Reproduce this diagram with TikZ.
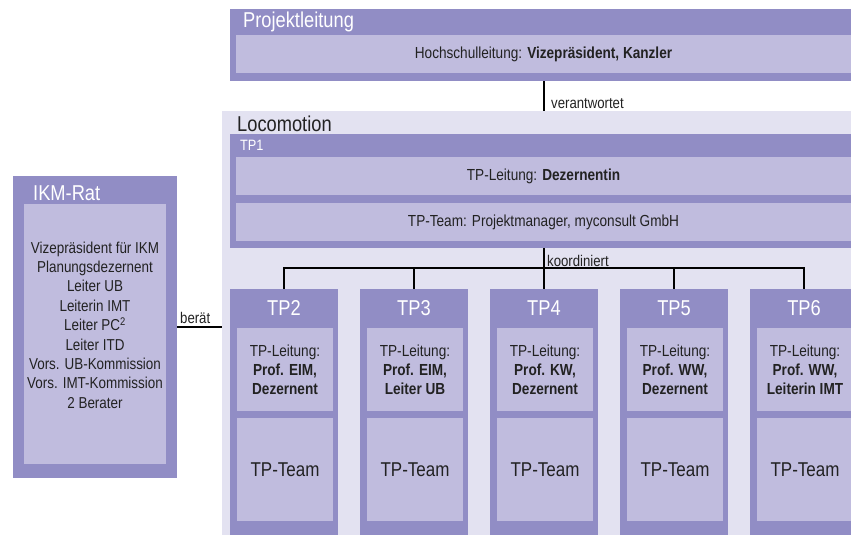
\documentclass[tikz,border=0pt]{standalone}
\usepackage{fontspec}
\setmainfont{Liberation Sans}[FakeStretch=0.85]
\definecolor{dk}{HTML}{918DC5}
\definecolor{lt}{HTML}{C0BCDE}
\definecolor{bgc}{HTML}{E3E2F1}
\definecolor{txt}{HTML}{222222}
\begin{document}
\begin{tikzpicture}[x=1pt,y=-1pt,
  panel/.style={fill=dk, draw=none, inner sep=0pt, outer sep=0pt, anchor=north west},
  cell/.style={fill=lt, draw=none, inner sep=0pt, outer sep=0pt, anchor=north west, text=txt, align=center},
  title/.style={text=white, font=\fontsize{21.5}{23}\selectfont, inner sep=0pt, anchor=west},
  body/.style={font=\fontsize{16}{19}\selectfont},
  conn/.style={draw=black, line width=1.6pt},
  lbl/.style={text=txt, font=\fontsize{15.5}{17}\selectfont, inner sep=0pt, anchor=west}]
\useasboundingbox (0,0) rectangle (851,535);
\clip (0,0) rectangle (851,535);

% Projektleitung
\node[panel, minimum width=625pt, minimum height=72pt] (pl) at (230,9) {};
\node[cell, body, minimum width=615pt, minimum height=38pt] (plin) at (236,35) {Hochschulleitung: \textbf{Vizepräsident, Kanzler}};
\node[title] (pltitle) at (243,22) {Projektleitung};

% Locomotion background
\node[fill=bgc, draw=none, inner sep=0pt, outer sep=0pt, anchor=north west, minimum width=640pt, minimum height=430pt] (loc) at (222,111) {};
\node[title, text=txt] (loctitle) at (237,124) {Locomotion};

% TP1
\node[panel, minimum width=625pt, minimum height=114pt] (tp1) at (230,134) {};
\node[title, font=\fontsize{15}{16}\selectfont] (tp1title) at (240,145) {TP1};
\node[cell, body, minimum width=615pt, minimum height=38pt] (tp1l) at (236,157) {TP-Leitung: \textbf{Dezernentin}};
\node[cell, body, minimum width=615pt, minimum height=38pt] (tp1t) at (236,203) {TP-Team: Projektmanager, myconsult GmbH};

% TP2 - TP6
\foreach \i/\n/\a/\b in {0/2/{Prof. EIM,}/{Dezernent}, 1/3/{Prof. EIM,}/{Leiter UB}, 2/4/{Prof. KW,}/{Dezernent}, 3/5/{Prof. WW,}/{Dezernent}, 4/6/{Prof. WW,}/{Leiterin IMT}}{
  \node[panel, minimum width=108pt, minimum height=260pt] (tp\n) at ({230+130*\i},289) {};
  \node[title, anchor=center] (tptitle\n) at ({284+130*\i},308) {TP\n};
  \node[cell, body, minimum width=96pt, minimum height=83pt] (tpl\n) at ({237+130*\i},328) {TP-Leitung:\\\textbf{\a}\\\textbf{\b}};
  \node[cell, font=\fontsize{20}{22}\selectfont, minimum width=96pt, minimum height=103pt] (tpt\n) at ({237+130*\i},418) {TP-Team};
}

% IKM-Rat
\node[panel, minimum width=164pt, minimum height=302pt] (ikm) at (13,176) {};
\node[cell, minimum width=142pt, minimum height=260pt] (ikmin) at (24,204) {};
\node[title] (ikmtitle) at (33,193) {IKM-Rat};
\node[text=txt, align=center, inner sep=0pt, font=\fontsize{15.8}{19.4}\selectfont] (ikmlist) at (95,325) {Vizepräsident für IKM\\Planungsdezernent\\Leiter UB\\Leiterin IMT\\Leiter PC\textsuperscript{2}\\Leiter ITD\\Vors. UB-Kommission\\Vors. IMT-Kommission\\2 Berater};

% connectors
\coordinate (bar) at (0,268);
\draw[conn] (pl.south -| tp4.north) -- (loc.north -| tp4.north);
\node[lbl] (verantw) at (551,104) {verantwortet};
\draw[conn] (tp1.south -| tp4.north) -- (tp4.north);
\draw[conn] (tp2.north) -- (tp2.north |- bar) -- (tp6.north |- bar) -- (tp6.north);
\foreach \n in {3,5} \draw[conn] (tp\n.north) -- (tp\n.north |- bar);
\node[lbl] (koord) at (547,261) {koordiniert};
\draw[conn, line width=1.3pt] (ikm.east) -- (loc.west |- ikm.east);
\node[lbl] (beraet) at (180,318) {berät};
\end{tikzpicture}
\end{document}
